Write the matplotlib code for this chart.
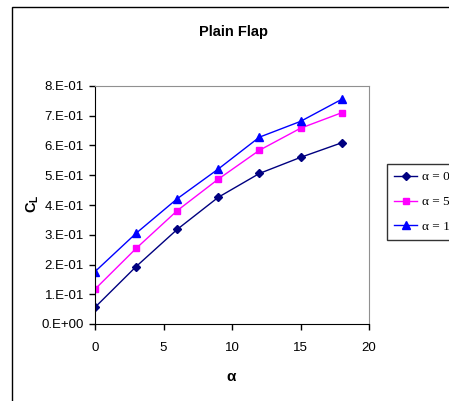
import matplotlib.pyplot as plt
from matplotlib.patches import Rectangle
from matplotlib.ticker import FuncFormatter, MultipleLocator
from matplotlib.font_manager import FontProperties

# data
alpha = [0, 3, 6, 9, 12, 15, 18]
cl_a0 = [0.056, 0.193, 0.318, 0.426, 0.506, 0.560, 0.609]
cl_a5 = [0.117, 0.254, 0.381, 0.487, 0.584, 0.658, 0.710]
cl_a10 = [0.176, 0.305, 0.421, 0.521, 0.628, 0.681, 0.755]
series_labels = ["\u03b1 = 0", "\u03b1 = 5", "\u03b1 = 10"]

plt.rcParams['font.family'] = ['Liberation Sans', 'DejaVu Sans']

fig = plt.figure(figsize=(4.49, 4.01), dpi=100)
fig.patch.set_facecolor('white')

# outer chart-area frame (Excel style, runs off the right/bottom edge)
fig.patches.append(Rectangle((12 / 449, -0.2), 1.2, 1 - 7 / 401 + 0.2,
                             transform=fig.transFigure, fill=False,
                             edgecolor='black', linewidth=1.0))

ax = fig.add_axes([95 / 449, 1 - 324 / 401, 274 / 449, 238 / 401])

ax.plot(alpha, cl_a0, color='#000080', marker='D', markersize=4.5, linewidth=1.0, label=series_labels[0])
ax.plot(alpha, cl_a5, color='#FF00FF', marker='s', markersize=5, linewidth=1.0, label=series_labels[1])
ax.plot(alpha, cl_a10, color='#0000FF', marker='^', markersize=6, linewidth=1.0, label=series_labels[2])

ax.set_xlim(0, 20)
ax.set_ylim(0, 0.8)
ax.xaxis.set_major_locator(MultipleLocator(5))
ax.yaxis.set_major_locator(MultipleLocator(0.1))


def excel_sci(v, pos):
    s = '%.0e' % v
    m, e = s.split('e')
    return m + '.E' + e


ax.yaxis.set_major_formatter(FuncFormatter(excel_sci))
ax.tick_params(direction='out', length=4, width=1, labelsize=9.5, pad=4)
ax.tick_params(axis='x', pad=9)

for side in ['top', 'right']:
    ax.spines[side].set_color('#909090')
for side in ['left', 'bottom']:
    ax.spines[side].set_color('black')

fig.text(0.521, 1 - 32 / 401, 'Plain Flap', ha='center', va='center',
         fontsize=10.5, fontweight='bold')
fig.text(33 / 449, 1 - 204 / 401, r'C$_\mathregular{L}$', ha='center', va='center',
         rotation=90, fontsize=10.5, fontweight='bold')
fig.text(231 / 449, 1 - 377 / 401, '\u03b1', ha='center', va='center',
         fontsize=11, fontweight='bold')

leg_font = FontProperties(family='Liberation Serif', size=9.5)
leg = fig.legend(loc='upper left', bbox_to_anchor=(387 / 449, 1 - 164 / 401),
                 frameon=True, fancybox=False, edgecolor='black', prop=leg_font,
                 handlelength=1.75, handletextpad=0.35, labelspacing=0.95,
                 borderpad=0.55, borderaxespad=0)
leg.get_frame().set_linewidth(1.0)

fig.savefig('out.png', dpi=100)
